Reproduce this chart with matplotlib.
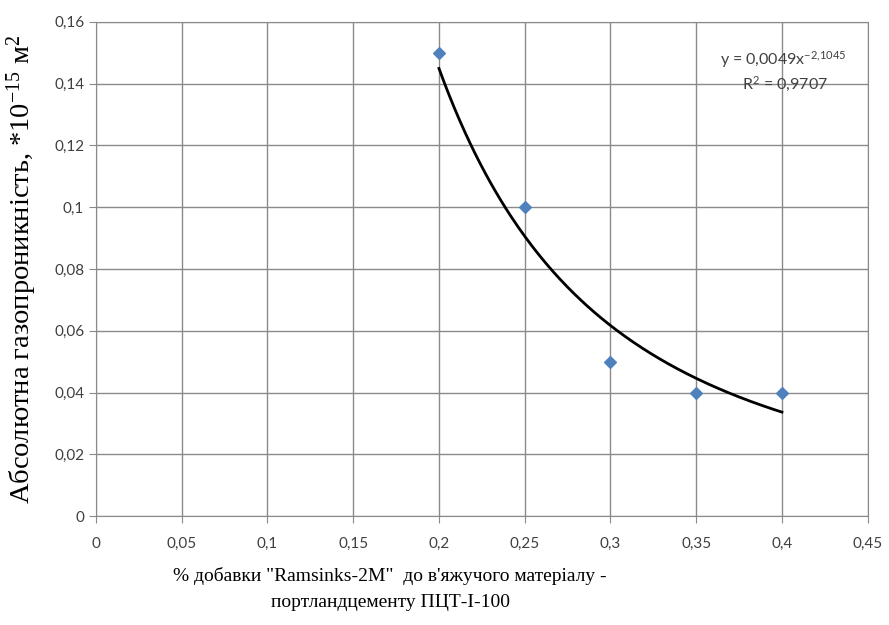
import numpy as np
import matplotlib
matplotlib.use("Agg")
import matplotlib.pyplot as plt

plt.rcParams["mathtext.fontset"] = "custom"
plt.rcParams["mathtext.rm"] = "Lato"
plt.rcParams["mathtext.it"] = "Lato:italic"

x_vals = [0.2, 0.25, 0.3, 0.35, 0.4]
y_vals = [0.15, 0.10, 0.05, 0.04, 0.04]
coef_a = 0.0049
coef_b = -2.1045
x_ticks = [0, 0.05, 0.1, 0.15, 0.2, 0.25, 0.3, 0.35, 0.4, 0.45]
x_tick_labels = ["0", "0,05", "0,1", "0,15", "0,2", "0,25", "0,3", "0,35", "0,4", "0,45"]
y_ticks = [0, 0.02, 0.04, 0.06, 0.08, 0.1, 0.12, 0.14, 0.16]
y_tick_labels = ["0", "0,02", "0,04", "0,06", "0,08", "0,1", "0,12", "0,14", "0,16"]

fig = plt.figure(figsize=(8.89, 6.25), dpi=100)
ax = fig.add_axes([0.108, 0.174, 0.868, 0.791])

xs = np.linspace(min(x_vals), max(x_vals), 200)
ax.plot(xs, coef_a * xs ** coef_b, color="black", lw=2, zorder=3)
ax.scatter(x_vals, y_vals, marker="D", s=36, color="#4f81bd", zorder=4)

ax.set_xlim(0, 0.45)
ax.set_ylim(0, 0.16)
ax.set_xticks(x_ticks)
ax.set_xticklabels(x_tick_labels)
ax.set_yticks(y_ticks)
ax.set_yticklabels(y_tick_labels)
ax.grid(True, color="#8a8a8a", lw=1)
ax.set_axisbelow(True)
for s in ax.spines.values():
    s.set_color("#8a8a8a")
ax.tick_params(axis="both", direction="out", length=5, color="#8a8a8a",
               labelsize=11, labelcolor="#404040")
for lab in ax.get_xticklabels() + ax.get_yticklabels():
    lab.set_family("Lato")
ax.tick_params(axis="x", pad=10)

ax.set_xlabel("% добавки \"Ramsinks-2M\"  до в'яжучого матеріалу -\nпортландцементу ПЦТ-І-100",
              family="Liberation Serif", fontsize=14, linespacing=1.65, va="top")
ax.xaxis.set_label_coords(0.381, -0.103)
ax.set_ylabel("Абсолютна газопроникність, *10$\\mathregular{^{-15}}$ м$\\mathregular{^{2}}$",
              family="Liberation Serif", fontsize=20.5)
ax.yaxis.set_label_coords(-0.074, 0.5)

ax.text(0.364, 0.1477, "y = 0,0049x$^{-2{,}1045}$", fontsize=11.5, family="Lato", color="#404040",
        ha="left", va="center")
ax.text(0.3766, 0.1396, "R$^{2}$ = 0,9707", fontsize=11.5, family="Lato", color="#404040",
        ha="left", va="center")

fig.savefig("out.png", dpi=100)
